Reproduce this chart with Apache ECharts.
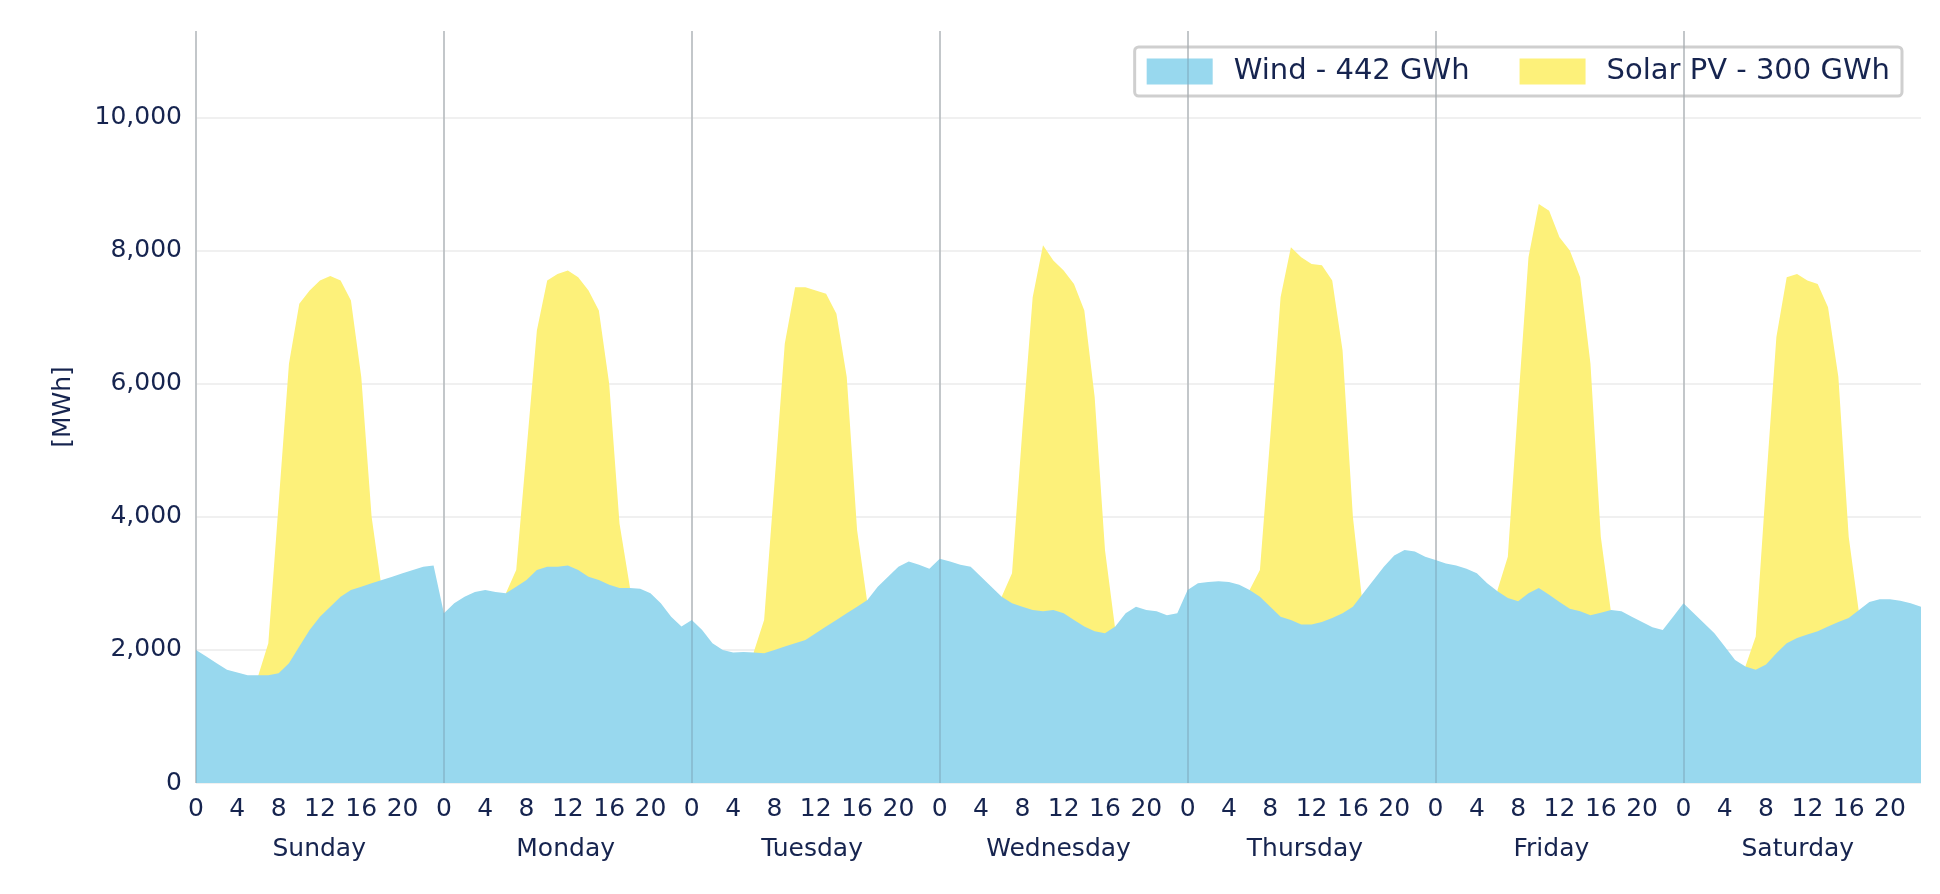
<!DOCTYPE html>
<html><head><meta charset="utf-8">
<script src="https://cdn.jsdelivr.net/npm/echarts@6/dist/echarts.min.js"></script>
<style>html,body{margin:0;padding:0;background:#fff}#c{width:1940px;height:894px}</style>
</head><body><div id="c"></div>
<script>
const days = ['Sunday','Monday','Tuesday','Wednesday','Thursday','Friday','Saturday'];
const yTicks = [0,2000,4000,6000,8000,10000];
const windSun = [2000,1900,1800,1700,1660,1620,1620,1620,1650,1800,2050,2300,2500,2650,2800,2900,2950,3000,3050,3100,3150,3200,3250,3270];
const windMon = [2550,2700,2800,2870,2900,2870,2850,2950,3050,3200,3250,3250,3270,3200,3100,3050,2980,2930,2930,2920,2850,2700,2500,2350];
const windTue = [2450,2300,2100,2000,1960,1970,1960,1950,2000,2050,2100,2150,2250,2350,2450,2550,2650,2750,2950,3100,3250,3330,3280,3220];
const windWed = [3370,3330,3280,3250,3100,2950,2800,2700,2650,2600,2580,2600,2550,2450,2350,2280,2250,2350,2550,2650,2600,2580,2520,2550];
const windThu = [2900,3000,3020,3030,3020,2980,2900,2800,2650,2500,2450,2380,2380,2420,2480,2550,2650,2850,3050,3250,3420,3500,3480,3400];
const windFri = [3350,3300,3270,3220,3150,3000,2880,2780,2730,2850,2930,2830,2720,2620,2580,2520,2560,2600,2580,2500,2420,2340,2300,2500];
const windSat = [2700,2550,2400,2250,2050,1850,1750,1700,1780,1950,2100,2180,2230,2280,2350,2420,2480,2600,2720,2760,2760,2740,2700,2650];
const solarSun = [0,0,0,0,0,0,1600,2100,4200,6300,7200,7400,7550,7620,7550,7250,6100,4000,2900,0,0,0,0,0];
const solarMon = [0,0,0,0,0,0,2850,3200,5000,6800,7550,7650,7700,7600,7400,7100,6000,3900,2950,0,0,0,0,0];
const solarTue = [0,0,0,0,0,0,1970,2450,4500,6600,7450,7450,7400,7350,7050,6100,3800,2700,0,0,0,0,0,0];
const solarWed = [0,0,0,0,0,0,2800,3150,5300,7300,8080,7850,7700,7500,7100,5800,3500,2300,0,0,0,0,0,0];
const solarThu = [0,0,0,0,0,0,2900,3200,5200,7300,8050,7900,7800,7780,7550,6500,4000,2600,0,0,0,0,0,0];
const solarFri = [0,0,0,0,0,0,2900,3400,5700,7900,8700,8600,8200,8000,7600,6300,3700,2550,0,0,0,0,0,0];
const solarSat = [0,0,0,0,0,0,1750,2200,4500,6700,7600,7650,7550,7500,7150,6100,3700,2550,0,0,0,0,0,0];

const wind = [].concat(windSun,windMon,windTue,windWed,windThu,windFri,windSat);
const solar = [].concat(solarSun,solarMon,solarTue,solarWed,solarThu,solarFri,solarSat);
const hours = wind.map((_, i) => String(i % 24));
const dayStarts = days.map((_, d) => ({xAxis: d * 24}));
const txt = '#16244f';
const font = 'DejaVu Sans';
const chart = echarts.init(document.getElementById('c'));
chart.setOption({
  animation:false,
  textStyle:{fontFamily:font},
  grid:{left:196,right:19,top:31,bottom:111},
  legend:{right:38,top:47,padding:[10,12,10,12],borderColor:'#cfcfcf',borderWidth:3,borderRadius:4,
    itemWidth:66,itemHeight:26,itemGap:50,
    textStyle:{color:txt,fontSize:29,fontFamily:font,padding:[0,0,0,16]},
    data:[{name:'Wind - 442 GWh',icon:'rect'},{name:'Solar PV - 300 GWh',icon:'rect'}]},
  xAxis:[{type:'category',data:hours,boundaryGap:false,
    axisLine:{show:false},axisTick:{show:false},
    axisLabel:{color:txt,fontSize:25,margin:14,interval:(i)=> i%4===0},
    splitLine:{show:true,interval:(i)=> i%24===0,lineStyle:{color:'#d8d8d8',width:1.5}}},
   {type:'category',data:days,position:'bottom',offset:40,boundaryGap:true,
    axisLine:{show:false},axisTick:{show:false},
    axisLabel:{color:txt,fontSize:25,margin:14}}],
  yAxis:{type:'value',min:0,max:11300,interval:2000,name:'[MWh]',nameLocation:'middle',nameGap:120,
    nameTextStyle:{color:txt,fontSize:25},
    axisLine:{show:false},axisTick:{show:false},
    axisLabel:{color:txt,fontSize:25,margin:14,showMaxLabel:false,
      formatter:(v)=> yTicks.includes(v)? v.toLocaleString('en-US') : ''},
    splitLine:{lineStyle:{color:['#ebebeb','#ebebeb','#ebebeb','#ebebeb','#ebebeb','#ebebeb','rgba(0,0,0,0)'],width:1.5}}},
  series:[
    {name:'Solar PV - 300 GWh',type:'line',data:solar,symbol:'none',lineStyle:{width:0},
      itemStyle:{color:'#fdf17a'},areaStyle:{color:'#fdf17a',opacity:1},z:2},
    {name:'Wind - 442 GWh',type:'line',data:wind,symbol:'none',lineStyle:{width:0},
      itemStyle:{color:'#98d8ee'},areaStyle:{color:'#98d8ee',opacity:1},z:3,
      markLine:{silent:true,symbol:'none',label:{show:false},
        lineStyle:{color:'rgba(90,110,120,0.3)',type:'solid',width:1.5},data:dayStarts}}
  ]
});
</script></body></html>
